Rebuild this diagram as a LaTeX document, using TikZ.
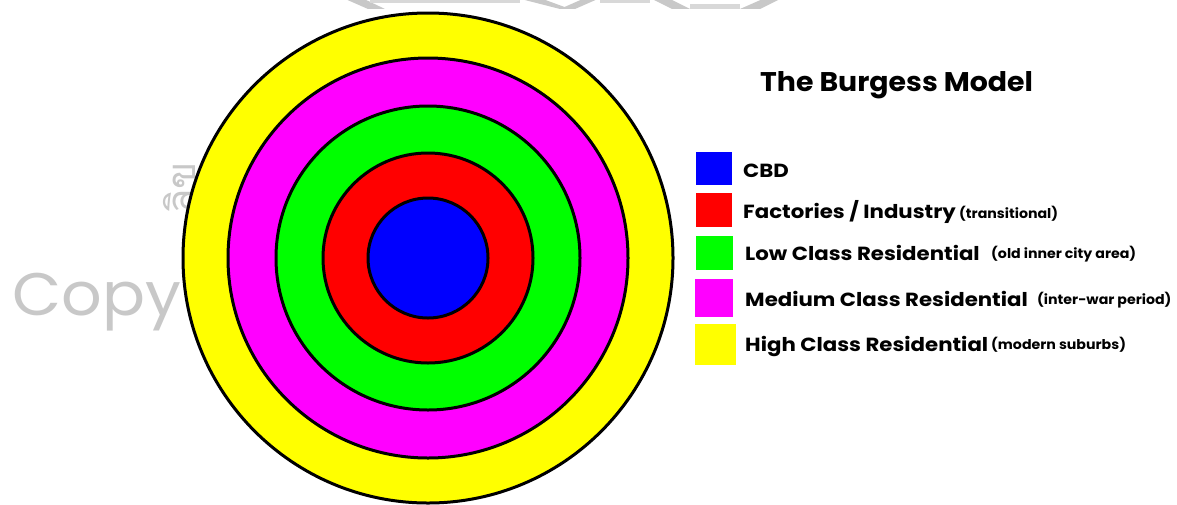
\documentclass[tikz,border=0pt]{standalone}
\usepackage{fontspec}
\setmainfont{Poppins}
\newfontfamily\thaifont[Script=Thai]{Loma}
\definecolor{cbd}{HTML}{0000FF}
\definecolor{fac}{HTML}{FF0000}
\definecolor{low}{HTML}{00FF00}
\definecolor{med}{HTML}{FF00FF}
\definecolor{high}{HTML}{FFFF00}
\definecolor{wm}{HTML}{C8C8C8}
\tikzset{
  ring/.style={draw=black, line width=3pt},
  lbl/.style={anchor=base west, inner sep=0pt, xscale=1.12, font=\fontsize{19}{22}\selectfont\bfseries},
  note/.style={anchor=base west, inner sep=0pt, xscale=1.05, font=\fontsize{13.5}{15}\selectfont\bfseries},
}
\begin{document}
\begin{tikzpicture}[x=1pt,y=-1pt]
\useasboundingbox (0,0) rectangle (1177,504);
\fill[white] (0,0) rectangle (1177,504);
% watermark fragments
\begin{scope}
\clip (330,0) rectangle (800,8);
\fill[wm] (343,-2) -- (362,-2) -- (385,9) -- (368,9) -- cycle;
\fill[wm!70!white] (370,-2) rectangle (520,3);
\fill[wm] (517,-2) -- (540,-2) -- (570,9) -- (560,9) -- cycle;
\fill[wm] (560,9) -- (575,9) -- (600,-2) -- (585,-2) -- cycle;
\fill[wm!70!white] (600,-2) rectangle (650,3);
\fill[wm] (650,-2) -- (668,-2) -- (690,9) -- (672,9) -- cycle;
\fill[wm!70!white] (690,4) rectangle (740,9);
\fill[wm] (740,9) -- (760,9) -- (782,-2) -- (765,-2) -- cycle;
\end{scope}
\node[wm, anchor=base west, inner sep=0pt, xscale=1.06, font=\fontsize{60}{62}\selectfont] (copy) at (12,315) {Copy};
\node[wm, rotate=90, inner sep=0pt, font=\thaifont\fontsize{40}{42}\selectfont] (thai) at (180,188) {ลิข};
% rings
\coordinate (c) at (428,258);
\fill[high, ring] (c) circle[radius=245];
\fill[med, ring] (c) circle[radius=200];
\fill[low, ring] (c) circle[radius=152];
\fill[fac, ring] (c) circle[radius=105];
\fill[cbd, ring] (c) circle[radius=60];
% title
\node[anchor=base west, inner sep=0pt, xscale=1.05, font=\fontsize{27}{30}\selectfont\bfseries] (title) at (760,91) {The Burgess Model};
% legend
\fill[cbd] (696,152) rectangle (732,185);
\fill[fac] (696,193) rectangle (732,227);
\fill[low] (696,236) rectangle (733,270);
\fill[med] (695,279) rectangle (733,317);
\fill[high] (695,324) rectangle (736,365);
\node[lbl] (l1) at (743,177) {CBD};
\node[lbl] (l2) at (743,218) {Factories / Industry};
\node[note] (n2) at (959,218) {(transitional)};
\node[lbl] (l3) at (745,260) {Low Class Residential};
\node[note] (n3) at (991,258) {(old inner city area)};
\node[lbl] (l4) at (745,306) {Medium Class Residential};
\node[note] (n4) at (1037,304) {(inter-war period)};
\node[lbl] (l5) at (745,351) {High Class Residential};
\node[note] (n5) at (991,349) {(modern suburbs)};
\end{tikzpicture}
\end{document}
